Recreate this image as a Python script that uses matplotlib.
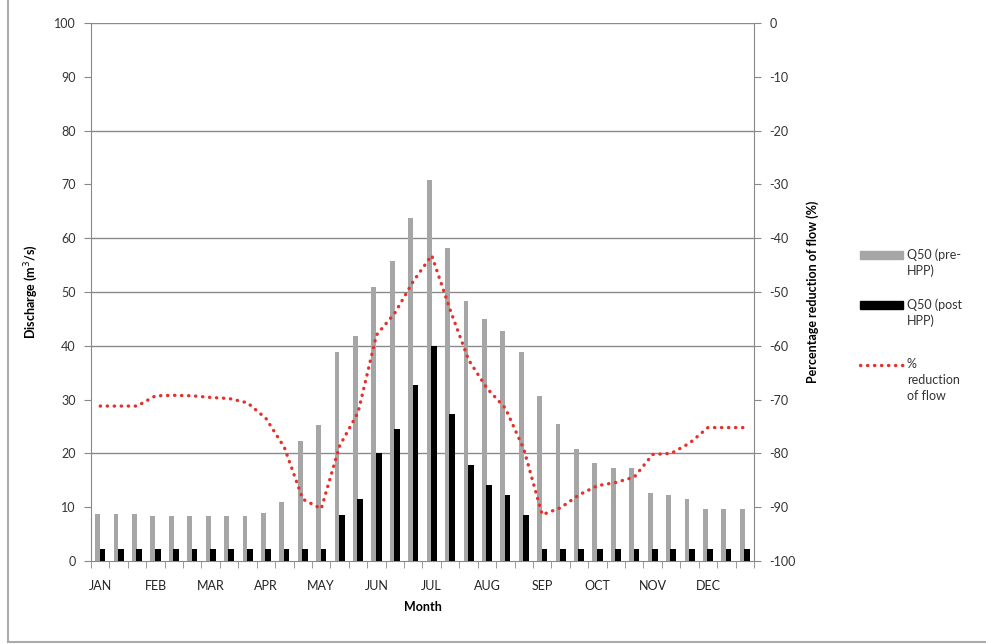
import numpy as np
import matplotlib
matplotlib.use('Agg')
import matplotlib.pyplot as plt
from matplotlib.lines import Line2D
from matplotlib.patches import Rectangle

plt.rcParams['font.family'] = ['Lato', 'DejaVu Sans']
plt.rcParams['axes.unicode_minus'] = False

months = ['JAN', 'FEB', 'MAR', 'APR', 'MAY', 'JUN',
          'JUL', 'AUG', 'SEP', 'OCT', 'NOV', 'DEC']

# ten-day periods, 3 per month
q50_pre = [8.7, 8.7, 8.7, 8.3, 8.3, 8.3, 8.3, 8.3, 8.3,
           9.0, 10.9, 22.3, 25.2, 38.8, 41.8, 50.9, 55.8, 63.8,
           70.8, 58.1, 48.4, 45.0, 42.8, 38.9, 30.7, 25.5, 20.8,
           18.2, 17.2, 17.2, 12.7, 12.3, 11.5, 9.6, 9.6, 9.6]
q50_post = [2.3, 2.3, 2.3, 2.3, 2.3, 2.3, 2.3, 2.3, 2.3,
            2.3, 2.3, 2.3, 2.3, 8.6, 11.5, 20.0, 24.6, 32.8,
            40.0, 27.3, 17.9, 14.2, 12.3, 8.6, 2.3, 2.3, 2.3,
            2.3, 2.3, 2.3, 2.3, 2.3, 2.3, 2.3, 2.3, 2.3]
pct_reduction = [-71.2, -71.2, -71.2, -69.3, -69.2, -69.3, -69.6, -69.8, -70.6,
                 -73.5, -78.9, -88.5, -90.3, -78.6, -72.4, -58.0, -53.9, -48.0,
                 -43.2, -53.3, -62.6, -67.9, -71.6, -79.2, -91.4, -90.1, -87.7,
                 -86.0, -85.4, -84.4, -80.2, -80.0, -78.1, -75.2, -75.2, -75.2]
legend_labels = ['Q50 (pre-\nHPP)', 'Q50 (post\nHPP)', '%\nreduction\nof flow']

x = np.arange(len(q50_pre))

fig = plt.figure(figsize=(9.87, 6.44), dpi=100)
W, H = 987, 644
L, R, T, B = 91, 754, 23, 561
ax = fig.add_axes([L / W, 1 - B / H, (R - L) / W, (B - T) / H])

axc = '#888888'
red = '#e8302a'
grey = '#a6a6a6'
dots = (0, (0.1, 2.0))
for yv in [20, 40, 50, 60, 80, 100]:
    ax.axhline(yv, color='#8a8a8a', lw=1.0, zorder=0)

ax.bar(x - 0.14, q50_pre, width=0.26, color=grey, zorder=2)
ax.bar(x + 0.12, q50_post, width=0.31, color='black', zorder=3)

ax.set_xlim(-0.5, 35.5)
ax.set_ylim(0, 100)
ax.set_yticks(np.arange(0, 101, 10))
ax.set_xticks(np.arange(0, 36, 3))
ax.set_xticklabels(months)
ax.set_xticks(np.arange(-0.5, 36, 1), minor=True)
ax.tick_params(axis='x', which='major', length=0, pad=14, labelsize=9, colors='#222222')
ax.tick_params(axis='x', which='minor', length=5, color=axc, direction='out')
ax.tick_params(axis='y', length=5, color=axc, labelsize=9, labelcolor='#333333', pad=6)

for s in ['top', 'right']:
    ax.spines[s].set_visible(False)
for s in ['left', 'bottom']:
    ax.spines[s].set_color(axc)

ax.set_ylabel('Discharge (m$^3$/s)', fontsize=9, fontweight='bold', labelpad=10)
ax.set_xlabel('Month', fontsize=9, fontweight='bold', labelpad=6)

ax2 = ax.twinx()
ax2.plot(x, pct_reduction, color=red, lw=2.4, linestyle=dots,
         dash_capstyle='round', zorder=4)
ax2.set_ylim(-100, 0)
ax2.set_yticks(np.arange(-100, 1, 10))
ax2.tick_params(axis='y', length=5, color=axc, labelsize=9, labelcolor='#333333', pad=6)
for s in ['top', 'left', 'bottom']:
    ax2.spines[s].set_visible(False)
ax2.spines['right'].set_color(axc)
ax2.set_ylabel('Percentage reduction of flow (%)', fontsize=9, fontweight='bold', labelpad=8)

# legend drawn by hand: key sits beside the first text line, like Excel does
key_x0, key_x1, txt_x = 860, 903, 907
rows = [255, 305, 365]
fig.add_artist(Rectangle((key_x0 / W, 1 - (rows[0] + 4) / H), (key_x1 - key_x0) / W, 8 / H,
                         color=grey, transform=fig.transFigure))
fig.add_artist(Rectangle((key_x0 / W, 1 - (rows[1] + 4) / H), (key_x1 - key_x0) / W, 8 / H,
                         color='black', transform=fig.transFigure))
fig.add_artist(Line2D([key_x0 / W, key_x1 / W], [1 - rows[2] / H] * 2, color=red, lw=2.4,
                      linestyle=dots, dash_capstyle='round'))
for yy, lab in zip(rows, legend_labels):
    fig.text(txt_x / W, 1 - (yy - 7) / H, lab, ha='left', va='top', fontsize=9,
             color='#333333', linespacing=1.4)

# chart area border
fig.add_artist(Line2D([8 / W, 8 / W], [2 / H, 1], color='#aaaaaa', lw=1.5))
fig.add_artist(Line2D([8 / W, 1], [2 / H, 2 / H], color='#aaaaaa', lw=1.5))

fig.savefig('out.png', dpi=100)
